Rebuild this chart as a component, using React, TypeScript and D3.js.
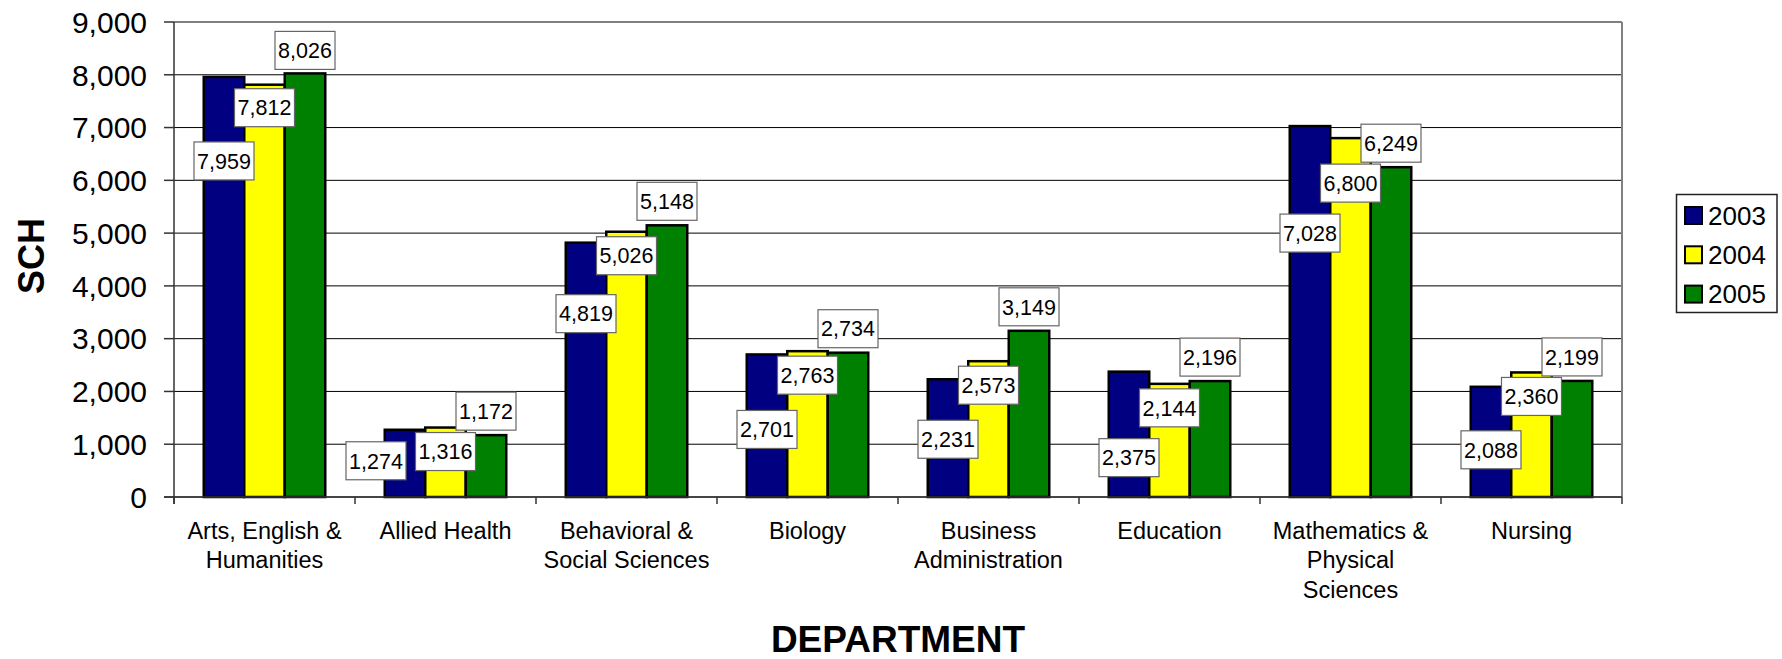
import React from "react";
import * as d3 from "d3";

const categories: string[][] = [
  ["Arts, English &", "Humanities"],
  ["Allied Health"],
  ["Behavioral &", "Social Sciences"],
  ["Biology"],
  ["Business", "Administration"],
  ["Education"],
  ["Mathematics &", "Physical", "Sciences"],
  ["Nursing"],
];
const seriesNames = ["2003", "2004", "2005"];
const values2003 = [7959, 1274, 4819, 2701, 2231, 2375, 7028, 2088];
const values2004 = [7812, 1316, 5026, 2763, 2573, 2144, 6800, 2360];
const values2005 = [8026, 1172, 5148, 2734, 3149, 2196, 6249, 2199];
const yTicks = [0, 1000, 2000, 3000, 4000, 5000, 6000, 7000, 8000, 9000];
const colors = ["#000080", "#FFFF00", "#008000"];

// label placement (as dragged in the original chart)
const blueLabelDrop = [84, 31, 71, 75, 60, 86, 107, 63];
const blueLabelShift = [0, -29, 0, 0, 0, 0, 0, 0];
const yellowLabelDrop = [23, 24, 24, 24, 24, 24, 45, 24];
const greenLabelDrop = [-23, -24, -24, -24, -24, -24, -24, -24];

const W = 1782;
const H = 659;
const left = 174;
const right = 1622;
const top = 22;
const bottom = 497;
const FONT = "'Liberation Sans', Arial, Helvetica, sans-serif";

export default function App() {
  const series = [values2003, values2004, values2005];
  const drops = [blueLabelDrop, yellowLabelDrop, greenLabelDrop];
  const keys = categories.map((c) => c.join(" "));
  const x = d3.scaleBand<string>().domain(keys).range([left, right]).padding(0);
  const groupW = 121.5;
  const xs = d3
    .scaleBand<string>()
    .domain(seriesNames)
    .range([-groupW / 2, groupW / 2])
    .padding(0);
  const y = d3.scaleLinear().domain([0, 9000]).range([bottom, top]);
  const fmt = d3.format(",");
  const bw = xs.bandwidth();

  const boundaries = d3.range(keys.length + 1).map((i) => left + i * x.bandwidth());

  return (
    <svg
      width={W}
      height={H}
      style={{ position: "absolute", left: 0, top: 0, background: "#fff" }}
      fontFamily={FONT}
    >
      <rect x={0} y={0} width={W} height={H} fill="#fff" />
      {/* gridlines */}
      {yTicks.map((t) => (
        <line
          key={"g" + t}
          x1={left}
          x2={right}
          y1={y(t)}
          y2={y(t)}
          stroke={t === 9000 ? "#808080" : "#000"}
          strokeWidth={t === 9000 ? 2 : 1}
        />
      ))}
      {/* right border */}
      <line x1={right} x2={right} y1={top} y2={bottom} stroke="#808080" strokeWidth={2} />
      {/* bars */}
      {series.map((vals, si) =>
        vals.map((v, ci) => {
          const cx = x(keys[ci])! + x.bandwidth() / 2 + xs(seriesNames[si])!;
          return (
            <rect
              key={`b${si}-${ci}`}
              x={cx}
              y={y(v)}
              width={bw}
              height={y(0) - y(v)}
              fill={colors[si]}
              stroke="#000"
              strokeWidth={2.5}
            />
          );
        })
      )}
      {/* axes */}
      <line x1={left} x2={left} y1={top} y2={bottom + 7} stroke="#333" strokeWidth={1.5} />
      <line x1={left - 10} x2={right} y1={bottom} y2={bottom} stroke="#333" strokeWidth={1.5} />
      {yTicks.map((t) => (
        <g key={"yt" + t}>
          <line x1={left - 10} x2={left} y1={y(t)} y2={y(t)} stroke="#333" strokeWidth={1.5} />
          <text
            x={147}
            y={y(t)}
            dy="0.36em"
            textAnchor="end"
            fontSize={30}
            fill="#000"
          >
            {fmt(t)}
          </text>
        </g>
      ))}
      {boundaries.map((bx, i) => (
        <line key={"xt" + i} x1={bx} x2={bx} y1={bottom} y2={bottom + 7} stroke="#333" strokeWidth={1.5} />
      ))}
      {/* category labels */}
      {categories.map((lines, ci) => (
        <text
          key={"c" + ci}
          x={x(keys[ci])! + x.bandwidth() / 2}
          y={539}
          textAnchor="middle"
          fontSize={23.5}
          fill="#000"
        >
          {lines.map((l, li) => (
            <tspan key={li} x={x(keys[ci])! + x.bandwidth() / 2} dy={li === 0 ? 0 : 29.3}>
              {l}
            </tspan>
          ))}
        </text>
      ))}
      {/* data labels */}
      {series.map((vals, si) =>
        vals.map((v, ci) => {
          const cx =
            x(keys[ci])! + x.bandwidth() / 2 + xs(seriesNames[si])! + bw / 2 + (si === 0 ? blueLabelShift[ci] : 0);
          const cy = y(v) + drops[si][ci];
          const bwid = 60;
          const bh = 38;
          return (
            <g key={`l${si}-${ci}`}>
              <rect
                x={cx - bwid / 2}
                y={cy - bh / 2}
                width={bwid}
                height={bh}
                fill="#fff"
                stroke="#666"
                strokeWidth={1.2}
              />
              <text x={cx} y={cy} dy="0.36em" textAnchor="middle" fontSize={21.5} fill="#000">
                {fmt(v)}
              </text>
            </g>
          );
        })
      )}
      {/* axis titles */}
      <text
        transform={`translate(43.5,256) rotate(-90)`}
        textAnchor="middle"
        fontSize={36}
        fontWeight="bold"
        fill="#000"
      >
        SCH
      </text>
      <text x={(left + right) / 2} y={652} textAnchor="middle" fontSize={37} fontWeight="bold" fill="#000">
        DEPARTMENT
      </text>
      {/* legend */}
      <g>
        <rect x={1676.5} y={194.5} width={100.5} height={118} fill="#fff" stroke="#222" strokeWidth={1.5} />
        {seriesNames.map((s, i) => (
          <g key={"lg" + s} transform={`translate(0,${215.5 + i * 39.3})`}>
            <rect x={1685} y={-8.5} width={17} height={17} fill={colors[i]} stroke="#000" strokeWidth={2} />
            <text x={1708} y={0} dy="0.36em" fontSize={26} fill="#000">
              {s}
            </text>
          </g>
        ))}
      </g>
    </svg>
  );
}
